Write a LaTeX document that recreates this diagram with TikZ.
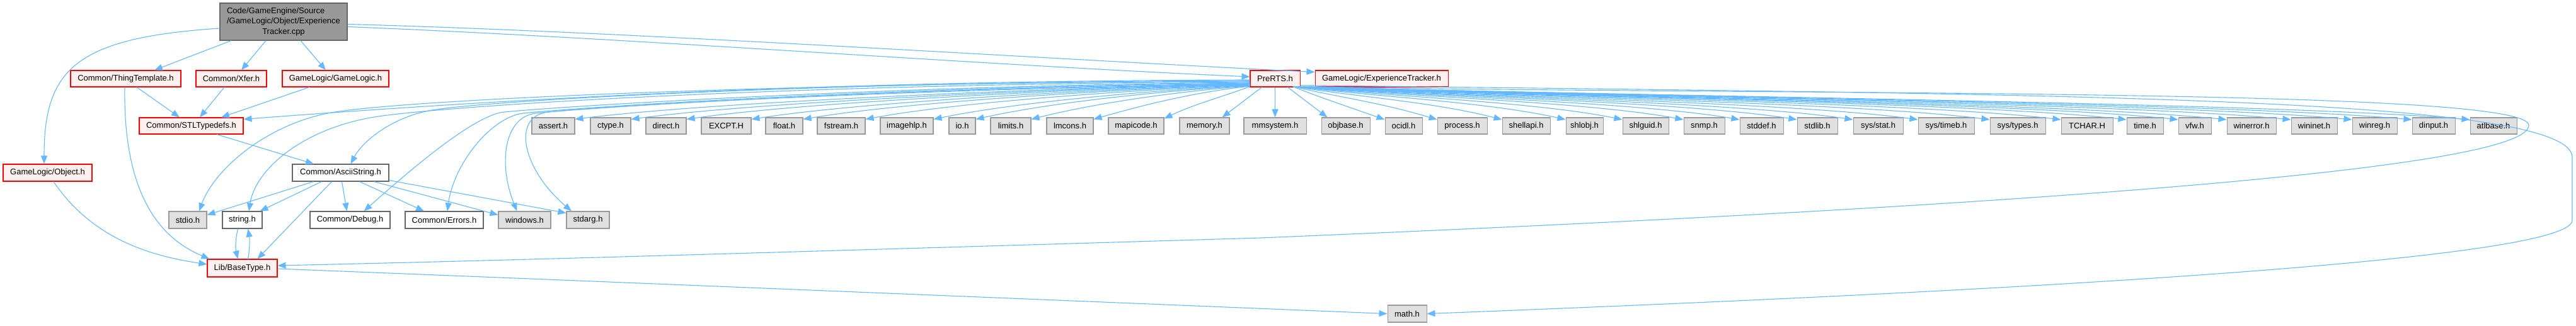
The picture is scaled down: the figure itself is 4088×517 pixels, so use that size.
\documentclass[tikz,border=0pt]{standalone}
\usepackage{fontspec}
\setmainfont{Liberation Sans}
\usetikzlibrary{arrows.meta}
\definecolor{edgeblue}{HTML}{63B8FF}
\definecolor{nodered}{HTML}{FF0000}
\definecolor{nodepink}{HTML}{FFF0F0}
\definecolor{graybd}{HTML}{999999}
\definecolor{grayfill}{HTML}{E0E0E0}
\definecolor{darkbd}{HTML}{666666}
\definecolor{mainfill}{HTML}{999999}
\newcommand\mknode[7]{%
  \pgfmathsetmacro\ndw{#4-#3}\pgfmathsetmacro\ndh{#6-#5}%
  \pgfmathsetmacro\ndx{(#3+#4)/2}\pgfmathsetmacro\ndy{(#5+#6)/2}%
  \node[#1, minimum width=\ndw pt, minimum height=\ndh pt] (#2) at (\ndx,\ndy) {#7};}
\begin{document}
\begin{tikzpicture}[x=1pt,y=-1pt,font=\fontsize{13}{16.5}\selectfont,
  nbase/.style={rectangle, inner sep=0pt, line width=1.05pt, align=center},
  redbox/.style={nbase, draw=nodered, fill=nodepink},
  graybox/.style={nbase, draw=graybd, fill=grayfill},
  whitebox/.style={nbase, draw=darkbd, fill=white},
  mainbox/.style={nbase, draw=darkbd, fill=mainfill},
  conn/.style={draw=edgeblue, line width=1.1pt, -{Triangle[length=13pt,width=10pt]}}]
\useasboundingbox (0,0) rectangle (4088,517);
% nodes
\mknode{mainbox}{main}{349}{551}{5}{64}{\begin{tabular}{@{}l@{}}Code/GameEngine/Source\\/GameLogic/Object/Experience\\\multicolumn{1}{@{}c@{}}{Tracker.cpp}\end{tabular}}
\mknode{redbox}{tt}{112}{287}{112}{138}{Common/ThingTemplate.h}
\mknode{redbox}{xfer}{311}{423}{112}{138}{Common/Xfer.h}
\mknode{redbox}{gl}{448}{617}{112}{138}{GameLogic/GameLogic.h}
\mknode{redbox}{pre}{1984}{2063}{112}{138}{PreRTS.h}
\mknode{redbox}{et}{2087}{2298}{112}{138}{GameLogic/ExperienceTracker.h}
\mknode{redbox}{stl}{221}{386}{187}{213}{Common/STLTypedefs.h}
\mknode{graybox}{assert}{844}{912}{187}{213}{assert.h}
\mknode{graybox}{ctype}{937}{1001}{187}{213}{ctype.h}
\mknode{graybox}{direct}{1025}{1089}{187}{213}{direct.h}
\mknode{graybox}{excpt}{1113}{1192}{187}{213}{EXCPT.H}
\mknode{graybox}{float}{1215}{1274}{187}{213}{float.h}
\mknode{graybox}{fstream}{1297}{1373}{187}{213}{fstream.h}
\mknode{graybox}{imagehlp}{1397}{1481}{187}{213}{imagehlp.h}
\mknode{graybox}{io}{1506}{1548}{187}{213}{io.h}
\mknode{graybox}{limits}{1572}{1636}{187}{213}{limits.h}
\mknode{graybox}{lmcons}{1661}{1735}{187}{213}{lmcons.h}
\mknode{graybox}{mapicode}{1759}{1847}{187}{213}{mapicode.h}
\mknode{graybox}{memory}{1872}{1951}{187}{213}{memory.h}
\mknode{graybox}{mmsystem}{1974}{2073}{187}{213}{mmsystem.h}
\mknode{graybox}{objbase}{2097}{2174}{187}{213}{objbase.h}
\mknode{graybox}{ocidl}{2198}{2257}{187}{213}{ocidl.h}
\mknode{graybox}{process}{2281}{2360}{187}{213}{process.h}
\mknode{graybox}{shellapi}{2384}{2460}{187}{213}{shellapi.h}
\mknode{graybox}{shlobj}{2485}{2544}{187}{213}{shlobj.h}
\mknode{graybox}{shlguid}{2575}{2648}{187}{213}{shlguid.h}
\mknode{graybox}{snmp}{2672}{2737}{187}{213}{snmp.h}
\mknode{graybox}{stddef}{2761}{2830}{187}{213}{stddef.h}
\mknode{graybox}{stdlib}{2852}{2916}{187}{213}{stdlib.h}
\mknode{graybox}{sysstat}{2941}{3020}{187}{213}{sys/stat.h}
\mknode{graybox}{systimeb}{3044}{3133}{187}{213}{sys/timeb.h}
\mknode{graybox}{systypes}{3158}{3246}{187}{213}{sys/types.h}
\mknode{graybox}{tchar}{3271}{3353}{187}{213}{TCHAR.H}
\mknode{graybox}{time}{3375}{3433}{187}{213}{time.h}
\mknode{graybox}{vfw}{3457}{3509}{187}{213}{vfw.h}
\mknode{graybox}{winerror}{3534}{3612}{187}{213}{winerror.h}
\mknode{graybox}{wininet}{3636}{3709}{187}{213}{wininet.h}
\mknode{graybox}{winreg}{3733}{3804}{187}{213}{winreg.h}
\mknode{graybox}{dinput}{3828}{3896}{187}{213}{dinput.h}
\mknode{graybox}{atlbase}{3920}{3994}{187}{213}{atlbase.h}
\mknode{redbox}{obj}{5}{146}{261}{288}{GameLogic/Object.h}
\mknode{whitebox}{ascii}{464}{617}{261}{288}{Common/AsciiString.h}
\mknode{graybox}{stdio}{268}{328}{336}{363}{stdio.h}
\mknode{whitebox}{string}{353}{416}{336}{363}{string.h}
\mknode{whitebox}{debug}{492}{619}{336}{363}{Common/Debug.h}
\mknode{whitebox}{errors}{643}{767}{336}{363}{Common/Errors.h}
\mknode{graybox}{windows}{791}{874}{336}{363}{windows.h}
\mknode{graybox}{stdarg}{899}{967}{336}{363}{stdarg.h}
\mknode{redbox}{base}{329}{440}{412}{440}{Lib/BaseType.h}
\mknode{graybox}{math}{2202}{2264}{485}{512}{math.h}
% main edges
\draw[conn] ([shift={(0,10.5)}]main.west) .. controls (120,60) and (70,110) .. ([shift={(-5.5,0)}]obj.north);
\draw[conn] ([shift={(-83,0)}]main.south) -- ([shift={(45.5,0)}]tt.north);
\draw[conn] ([shift={(-28,0)}]main.south) -- ([shift={(16,0)}]xfer.north);
\draw[conn] ([shift={(27,0)}]main.south) -- ([shift={(-15.5,0)}]gl.north);
\draw[conn] ([shift={(0,8)}]main.east) .. controls +(450,18) and +(-450,-20) .. ([shift={(0,-3)}]pre.west);
\draw[conn] ([shift={(0,4)}]main.east) .. controls +(450,12) and +(-450,-22) .. ([shift={(0,3)}]et.north west);
% second level
\draw[conn] ([shift={(17.5,0)}]tt.south) -- ([shift={(-18.5,0)}]stl.north);
\draw[conn] ([shift={(-11,0)}]xfer.south) -- ([shift={(13.5,0)}]stl.north);
\draw[conn] ([shift={(-41.5,0)}]gl.south) -- ([shift={(47.5,0)}]stl.north);
\draw[conn] ([shift={(-1.5,0)}]tt.south) .. controls (195,330) and (270,385) .. ([shift={(4,0)}]base.north west);
\draw[conn] ([shift={(9.5,0)}]obj.south) .. controls (150,385) and (250,408) .. ([shift={(0,-6)}]base.west);
\draw[conn] ([shift={(40.5,0)}]stl.south) -- ([shift={(-42.5,0)}]ascii.north);
\draw[conn] ([shift={(-43,0)}]ascii.south) -- ([shift={(0,-8)}]stdio.east);
\draw[conn] ([shift={(-30,0)}]ascii.south) -- ([shift={(28,0)}]string.north);
\draw[conn] ([shift={(-14,0)}]ascii.south) -- ([shift={(24,0)}]base.north);
\draw[conn] ([shift={(2,0)}]ascii.south) -- ([shift={(-5,0)}]debug.north);
\draw[conn] ([shift={(30,0)}]ascii.south) -- ([shift={(-32,0)}]errors.north);
\draw[conn] ([shift={(53,0)}]ascii.south) -- ([shift={(0,-8)}]windows.west);
\draw[conn] ([shift={(0,12)}]ascii.east) -- ([shift={(0,-11)}]stdarg.west);
\draw[conn] ([shift={(-7,0)}]string.south) .. controls +(-4,17) and +(-4,-17) .. ([shift={(-7,0)}]base.north);
\draw[conn] ([shift={(9,0)}]base.north) .. controls +(3,-17) and +(3,17) .. ([shift={(9,0)}]string.south);
\draw[conn] ([shift={(0,1)}]base.east) .. controls (1000,449) and (1700,478) .. (math.west);
% PreRTS to left-side nodes
\draw[conn] ([shift={(0,2)}]pre.west) .. controls (1400,128) and (900,150) .. ([shift={(0,3)}]stl.north east);
\draw[conn] ([shift={(0,3)}]pre.west) .. controls (1300,130) and (760,160) .. (680,176) .. controls (620,188) and (575,225) .. ([shift={(16,0)}]ascii.north);
\draw[conn] ([shift={(0,4)}]pre.west) .. controls (1200,132) and (620,160) .. (520,180) .. controls (420,200) and (340,270) .. ([shift={(18,0)}]stdio.north);
\draw[conn] ([shift={(0,5)}]pre.west) .. controls (1200,134) and (700,170) .. (600,185) .. controls (480,203) and (405,270) .. ([shift={(10.5,0)}]string.north);
\draw[conn] ([shift={(0,6)}]pre.west) .. controls (1400,136) and (880,170) .. (800,178) .. controls (750,183) and (640,280) .. ([shift={(22,0)}]debug.north);
\draw[conn] ([shift={(0,7)}]pre.west) .. controls (1400,138) and (900,172) .. (830,180) .. controls (780,186) and (720,260) .. ([shift={(5,0)}]errors.north);
\draw[conn] ([shift={(0,8)}]pre.west) .. controls (1400,140) and (920,172) .. (850,180) .. controls (800,186) and (790,260) .. ([shift={(-12,0)}]windows.north);
\draw[conn] ([shift={(0,9)}]pre.west) .. controls (1400,142) and (940,170) .. (870,178) .. controls (810,185) and (830,270) .. ([shift={(-26,0)}]stdarg.north);
\foreach \t/\d/\s in {lmcons/249/12, limits/348/11.5, io/436/11, imagehlp/503/10.5, fstream/611/10, float/710/9.5, excpt/792/9, direct/895/8.5, ctype/983/8, assert/1072/7.5}
  \draw[conn] ([shift={(0,\s)}]pre.west) .. controls +(-0.3*\d,8) and +(0.15*\d+60,-28) .. ([shift={(0,3)}]\t.north east);
\draw[conn] ([shift={(0,-1)}]pre.south west) .. controls +(-40,15) and +(45,-22) .. ([shift={(0,2)}]mapicode.north east);
\draw[conn] ([shift={(-21,0)}]pre.south) -- ([shift={(28,0)}]memory.north);
\draw[conn] (pre.south) -- (mmsystem.north);
\draw[conn] ([shift={(20,0)}]pre.south) -- ([shift={(10,0)}]objbase.north west);
% PreRTS to right-side nodes
\foreach \t/\d/\s in {ocidl/135/12, process/218/11, shellapi/321/10, shlobj/422/9.5, shlguid/512/9, snmp/609/8.5, stddef/698/8, stdlib/789/7.5, sysstat/878/7, systimeb/981/6.5, systypes/1095/6, tchar/1208/5.5, time/1312/5, vfw/1394/4.5, winerror/1471/4, wininet/1573/3.5, winreg/1670/3, dinput/1765/2.5, atlbase/1857/2}
  \draw[conn] ([shift={(-\s,-1)}]pre.south east) .. controls +(0.3*\d,16) and +(-0.15*\d-60,-28) .. ([shift={(0,-10)}]\t.west);
% long loops on the right
\draw[conn] ([shift={(0,-1)}]pre.south east) .. controls (2800,152) and (4013,138) .. (4013,199) .. controls (4013,260) and (3400,320) .. (2000,378) .. controls (1200,402) and (800,414) .. ([shift={(0,-4)}]base.east);
\draw[conn] ([shift={(0,-3)}]pre.south east) .. controls (3200,150) and (4082,150) .. (4082,250) -- (4082,350) .. controls (4082,420) and (3000,470) .. (math.east);
\end{tikzpicture}
\end{document}
